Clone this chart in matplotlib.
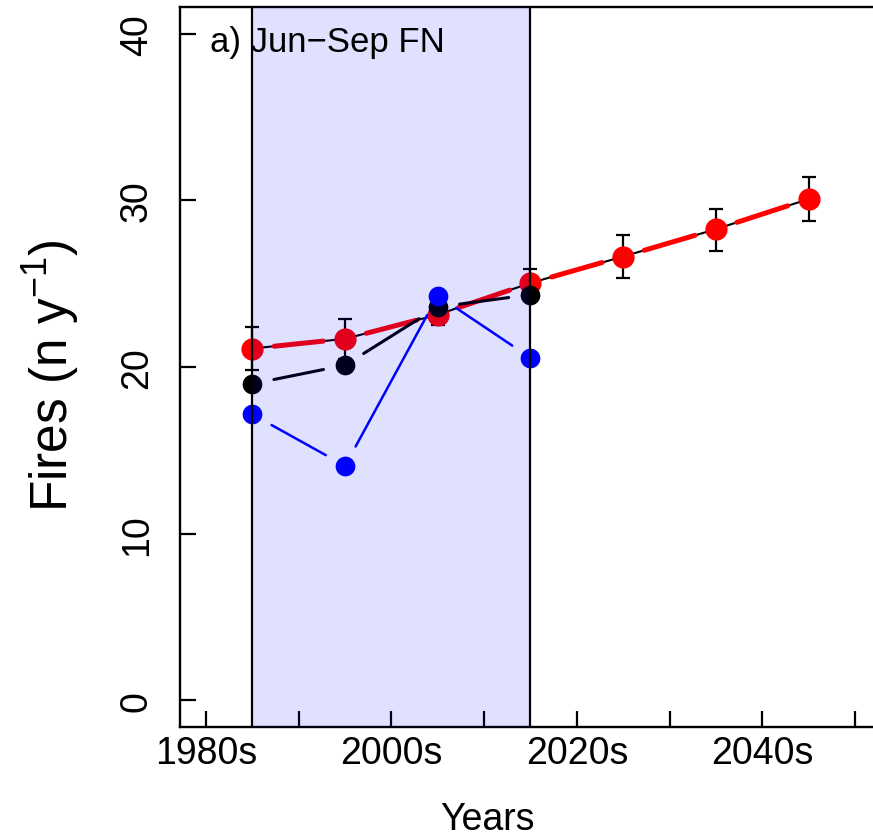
import matplotlib.pyplot as plt
import numpy as np

plt.rcParams['font.family'] = ['Liberation Sans', 'DejaVu Sans']
plt.rcParams['mathtext.fontset'] = 'custom'
plt.rcParams['mathtext.rm'] = 'Liberation Sans'
plt.rcParams['mathtext.default'] = 'regular'

# decade mid points
decades = np.array([1985, 1995, 2005, 2015, 2025, 2035, 2045])
obs_decades = decades[:4]

# red series + its error range
model = np.array([21.11, 21.69, 23.14, 25.04, 26.63, 28.27, 30.08])
model_lo = np.array([19.81, 20.48, 22.54, 24.18, 25.34, 26.99, 28.79])
model_hi = np.array([22.40, 22.90, 23.74, 25.90, 27.93, 29.48, 31.42])

# black and blue series (past decades only)
black_obs = np.array([18.99, 20.11, 23.60, 24.34])
blue_obs = np.array([17.16, 14.07, 24.28, 20.55])

tick_years = np.arange(1980, 2051, 10)
tick_labels = ['1980s', '', '2000s', '', '2020s', '', '2040s', '']
y_ticks = [0, 10, 20, 30, 40]

W, H = 873, 837
fig = plt.figure(figsize=(W / 100, H / 100), dpi=100)
ax = fig.add_axes([180 / W, (H - 728) / H, (881 - 180) / W, (728 - 8) / H])
ax.set_xlim(1977.2, 2052.8)
ax.set_ylim(-1.6, 41.6)


def gapped(x, y, gap=22, **kw):
    # like R type="b": segments between points, cut short near each point
    pts = ax.transData.transform(np.column_stack([x, y]))
    inv = ax.transData.inverted()
    for p, q in zip(pts[:-1], pts[1:]):
        d = q - p
        L = np.hypot(d[0], d[1])
        if L <= 2 * gap:
            continue
        u = d / L
        a, b = inv.transform(np.array([p + u * gap, q - u * gap]))
        ax.plot([a[0], b[0]], [a[1], b[1]], solid_capstyle='round', **kw)


# red series
ax.plot(decades, model, color='black', lw=1.5, zorder=2)
gapped(decades, model, color='red', lw=3.6, zorder=3)
ax.errorbar(decades, model, yerr=[model - model_lo, model_hi - model],
            fmt='none', ecolor='black', elinewidth=1.6, capsize=4.7,
            capthick=1.6, zorder=4)
ax.plot(decades, model, 'o', color='red', ms=16, mec='none', zorder=5)

# black series
gapped(obs_decades, black_obs, color='black', lw=2.2, zorder=6)
ax.plot(obs_decades, black_obs, 'o', color='black', ms=14.2, mec='none', zorder=7)

# blue series
gapped(obs_decades, blue_obs, color='blue', lw=1.8, zorder=8)
ax.plot(obs_decades, blue_obs, 'o', color='blue', ms=14.2, mec='none', zorder=9)

# shaded reference period, drawn on top
ax.axvspan(1985, 2015, color='blue', alpha=0.12, lw=0, zorder=10)
ax.axvline(1985, color='black', lw=1.6, zorder=11)
ax.axvline(2015, color='black', lw=1.6, zorder=11)

ax.set_xticks(tick_years)
ax.set_xticklabels(tick_labels)
ax.set_yticks(y_ticks)
ax.set_yticklabels([str(v) for v in y_ticks], rotation=90, va='center')
ax.tick_params(direction='in', length=11.5, width=1.6, labelsize=27)
ax.tick_params(axis='x', pad=6)
ax.tick_params(axis='y', pad=18)
for s in ax.spines.values():
    s.set_linewidth(1.7)

fig.text(210 / W, 1 - 52 / H, 'a) Jun\u2212Sep FN', fontsize=25, va='baseline', ha='left')
fig.text(487 / W, 1 - 830 / H, 'Years', fontsize=27, va='baseline', ha='center')
fig.text(68 / W, 1 - 376 / H, 'Fires (n y$^{-1}$)', fontsize=37, rotation=90,
         rotation_mode='anchor', ha='center', va='baseline')

fig.savefig('out.png', dpi=100)
